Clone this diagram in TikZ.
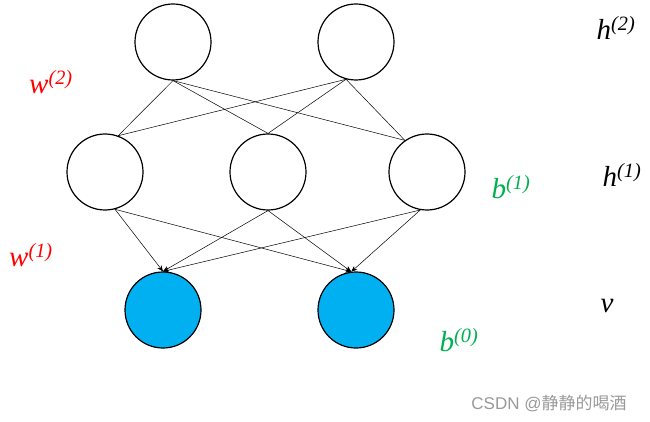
\documentclass[tikz,border=0pt]{standalone}
\usepackage{fontspec}
\setmainfont{Liberation Serif}
\newfontfamily\cjk{Noto Sans CJK SC}
\newfontfamily\wmf{Liberation Sans}
\usetikzlibrary{arrows.meta}
\definecolor{cy}{HTML}{00B0F0}
\definecolor{gr}{HTML}{00B050}
\begin{document}
\begin{tikzpicture}[x=1pt,y=-1pt,
  neu/.style={circle,draw,line width=1.2pt,minimum size=76pt,inner sep=0pt},
  vis/.style={neu,fill=cy},
  ln/.style={line width=0.5pt},
  ar/.style={ln,-{Stealth[length=6pt,width=5pt]}},
  lab/.style={font=\itshape\fontsize{29}{29}\selectfont},
  red/.style={lab,text=red},
  grn/.style={lab,text=gr}]
\useasboundingbox (0,0) rectangle (650,422);
\node[neu] (t1) at (173,42) {};
\node[neu] (t2) at (356,42) {};
\node[neu] (m1) at (105,172) {};
\node[neu] (m2) at (268,172) {};
\node[neu] (m3) at (427,172) {};
\node[vis] (b1) at (163,310) {};
\node[vis] (b2) at (356,310) {};
\foreach \t/\a in {t1/-90,t2/-105}{
  \draw[ln] (\t.\a) -- (m1.70);
  \draw[ln] (\t.\a) -- (m2.north);
  \draw[ln] (\t.\a) -- (m3.125);}
\draw[ar] (m1.-75) -- (b1.north);
\draw[ar] (m1.-75) -- (b2.97);
\draw[ar] (m2.south) -- (b1.north);
\draw[ar] (m2.south) -- (b2.97);
\draw[ar] (m3.-100) -- (b1.north);
\draw[ar] (m3.-100) -- (b2.97);
\node[lab] (h2) at (616,28) {h\textsuperscript{(2)}};
\node[lab] (h1) at (622,175) {h\textsuperscript{(1)}};
\node[lab] (v) at (607,306) {v};
\node[red] (w2) at (51,82) {w\textsuperscript{(2)}};
\node[red] (w1) at (31,255) {w\textsuperscript{(1)}};
\node[grn] (c1) at (511,187) {b\textsuperscript{(1)}};
\node[grn] (c0) at (459,340) {b\textsuperscript{(0)}};
\node[text=gray!80,font=\wmf\fontsize{17}{17}\selectfont] (wm) at (549,403) {CSDN @{\cjk 静静的喝酒}};
\end{tikzpicture}
\end{document}
